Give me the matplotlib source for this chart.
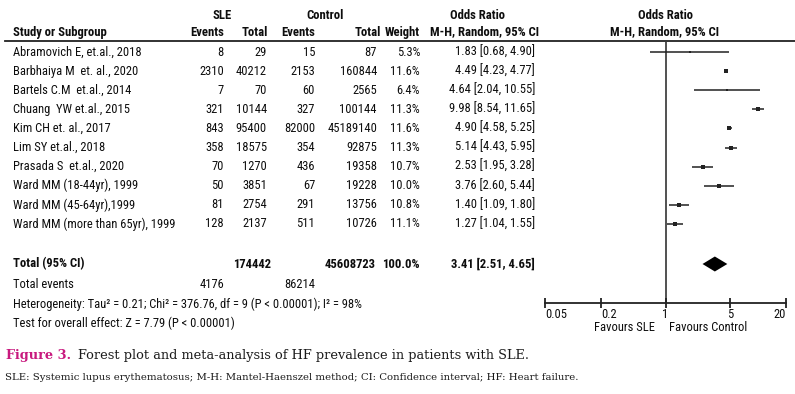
import os
import matplotlib
matplotlib.use("Agg")
import matplotlib.pyplot as plt
from matplotlib import font_manager
from matplotlib.font_manager import FontProperties
from matplotlib.textpath import TextToPath

# study level data
studies = ["Abramovich E, et.al., 2018", "Barbhaiya M  et. al., 2020",
           "Bartels C.M  et.al., 2014", "Chuang  YW et.al., 2015",
           "Kim CH et. al., 2017", "Lim SY et.al., 2018",
           "Prasada S  et.al., 2020", "Ward MM (18-44yr), 1999",
           "Ward MM (45-64yr),1999", "Ward MM (more than 65yr), 1999"]
sle_events = [8, 2310, 7, 321, 843, 358, 70, 50, 81, 128]
sle_total = [29, 40212, 70, 10144, 95400, 18575, 1270, 3851, 2754, 2137]
ctrl_events = [15, 2153, 60, 327, 82000, 354, 436, 67, 291, 511]
ctrl_total = [87, 160844, 2565, 100144, 45189140, 92875, 19358, 19228, 13756, 10726]
weights = [5.3, 11.6, 6.4, 11.3, 11.6, 11.3, 10.7, 10.0, 10.8, 11.1]
odds = [1.83, 4.49, 4.64, 9.98, 4.90, 5.14, 2.53, 3.76, 1.40, 1.27]
ci_low = [0.68, 4.23, 2.04, 8.54, 4.58, 4.43, 1.95, 2.60, 1.09, 1.04]
ci_high = [4.90, 4.77, 10.55, 11.65, 5.25, 5.95, 3.28, 5.44, 1.80, 1.55]

pooled_or, pooled_lo, pooled_hi = 3.41, 2.51, 4.65
total_sle, total_ctrl = 174442, 45608723
events_sle, events_ctrl = 4176, 86214
x_ticks = [0.05, 0.2, 1, 5, 20]
x_tick_labels = ["0.05", "0.2", "1", "5", "20"]
het_text = "Heterogeneity: Tau\u00b2 = 0.21; Chi\u00b2 = 376.76, df = 9 (P < 0.00001); I\u00b2 = 98%"


def narrow_font():
    # the original table uses an Arial Narrow look, take a condensed face if one exists
    for fam, st in [("Liberation Sans Narrow", "normal"), ("Roboto Condensed", "normal"),
                    ("Noto Sans", "condensed"), ("DejaVu Sans", "condensed")]:
        try:
            path = font_manager.findfont(FontProperties(family=fam, stretch=st),
                                         fallback_to_default=False)
        except Exception:
            continue
        name = os.path.basename(path).lower()
        if ("narrow" in name or "condensed" in name) and "extra" not in name:
            return fam, st
    return "DejaVu Sans", "condensed"


def fit_size(s, target_px, weight="normal"):
    fp = FontProperties(family=fam, stretch=stretch, weight=weight, size=10)
    w, _, _ = TextToPath().get_text_width_height_descent(s, fp, ismath=False)
    return 10 * target_px / (w * 100 / 72)


fam, stretch = narrow_font()
fs = min(9.2, (fit_size(het_text, 349) + fit_size(studies[-1], 162)) / 2)
fsb = min(9.2, (fit_size("Study or Subgroup", 95, "bold")
                + fit_size("M-H, Random, 95% CI", 108, "bold")) / 2)

W, H = 795, 394
fig = plt.figure(figsize=(W / 100, H / 100), dpi=100)
fig.patch.set_facecolor("white")

# overlay axes in pixel coordinates for the table text
tx = fig.add_axes([0, 0, 1, 1])
tx.set_xlim(0, W)
tx.set_ylim(H, 0)
tx.axis("off")

ink = "#0d0d0d"
kw = dict(family=fam, stretch=stretch, fontsize=fs, va="center", color=ink)
bold = dict(kw, fontweight="bold", fontsize=fsb)

# header
tx.text(222, 15, "SLE", ha="center", **bold)
tx.text(325, 15, "Control", ha="center", **bold)
tx.text(478, 15, "Odds Ratio", ha="center", **bold)
tx.text(665, 15, "Odds Ratio", ha="center", **bold)
tx.text(13, 32, "Study or Subgroup", ha="left", **bold)
tx.text(224, 32, "Events", ha="right", **bold)
tx.text(268, 32, "Total", ha="right", **bold)
tx.text(315, 32, "Events", ha="right", **bold)
tx.text(381, 32, "Total", ha="right", **bold)
tx.text(420, 32, "Weight", ha="right", **bold)
tx.text(485, 32, "M-H, Random, 95% CI", ha="center", **bold)
tx.text(664, 32, "M-H, Random, 95% CI", ha="center", **bold)
tx.plot([5, W], [41, 41], color="#222222", lw=1.3)

row_y = [52 + 19.1 * i for i in range(len(studies))]
for i, y in enumerate(row_y):
    tx.text(13, y, studies[i], ha="left", **kw)
    tx.text(224, y, str(sle_events[i]), ha="right", **kw)
    tx.text(267, y, str(sle_total[i]), ha="right", **kw)
    tx.text(315, y, str(ctrl_events[i]), ha="right", **kw)
    tx.text(377, y, str(ctrl_total[i]), ha="right", **kw)
    tx.text(420, y, f"{weights[i]:.1f}%", ha="right", **kw)
    tx.text(535, y, f"{odds[i]:.2f} [{ci_low[i]:.2f}, {ci_high[i]:.2f}]",
            ha="right", **kw)

total_y = 264
tx.text(13, total_y, "Total (95% CI)", ha="left", **bold)
tx.text(271, total_y, str(total_sle), ha="right", **bold)
tx.text(376, total_y, str(total_ctrl), ha="right", **bold)
tx.text(420, total_y, "100.0%", ha="right", **bold)
tx.text(535, total_y, f"{pooled_or:.2f} [{pooled_lo:.2f}, {pooled_hi:.2f}]",
        ha="right", **bold)

tx.text(13, 285, "Total events", ha="left", **kw)
tx.text(224, 285, str(events_sle), ha="right", **kw)
tx.text(315, 285, str(events_ctrl), ha="right", **kw)
tx.text(13, 304, het_text, ha="left", **kw)
tx.text(13, 323, "Test for overall effect: Z = 7.79 (P < 0.00001)", ha="left", **kw)

# caption
cap = dict(family="DejaVu Serif", va="center", ha="left")
tx.text(6, 356, "Figure 3.", fontsize=9.3, fontweight="bold", color="#c8197e", **cap)
tx.text(78, 356, "Forest plot and meta-analysis of HF prevalence in patients with SLE.",
        fontsize=9.3, color="#1a1a1a", **cap)
tx.text(5, 377, "SLE: Systemic lupus erythematosus; M-H: Mantel-Haenszel method; "
        "CI: Confidence interval; HF: Heart failure.",
        fontsize=7.25, color="#1a1a1a", **cap)

# forest plot axes, pixel y range shared with the table
x0, x1 = 545, 786
y_top, y_axis = 42, 303
ax = fig.add_axes([x0 / W, 1 - y_axis / H, (x1 - x0) / W, (y_axis - y_top) / H])
ax.set_xscale("log")
ax.set_xlim(x_ticks[0], x_ticks[-1])
ax.set_ylim(y_axis, y_top)
ax.patch.set_alpha(0)
for s in ["top", "right", "left"]:
    ax.spines[s].set_visible(False)
ax.spines["bottom"].set_linewidth(1.3)
ax.spines["bottom"].set_color("#222222")
ax.set_yticks([])
ax.minorticks_off()
ax.set_xticks(x_ticks)
ax.set_xticklabels(x_tick_labels)
ax.tick_params(axis="x", direction="inout", length=7.5, width=1.3, color="#222222",
               pad=0, labelsize=fs, labelcolor=ink)
for lab, ha in zip(ax.get_xticklabels(), ["left", "left", "center", "center", "right"]):
    lab.set_ha(ha)
    lab.set_family(fam)
    lab.set_stretch(stretch)
ax.axvline(1, color="#222222", lw=1.1)

for i, y in enumerate(row_y):
    ax.plot([ci_low[i], ci_high[i]], [y, y], color="#222222", lw=1.1,
            solid_capstyle="butt")
    ax.plot(odds[i], y, marker="s", color="#222222", ms=weights[i] * 0.3,
            mew=0, lw=0)

dh = 7.5
ax.fill([pooled_lo, pooled_or, pooled_hi, pooled_or],
        [total_y, total_y - dh, total_y, total_y + dh], color="black", lw=0)

tx.text(655, 327.5, "Favours SLE", ha="right", **kw)
tx.text(669, 327.5, "Favours Control", ha="left", **kw)

fig.savefig("out.png", dpi=100)
